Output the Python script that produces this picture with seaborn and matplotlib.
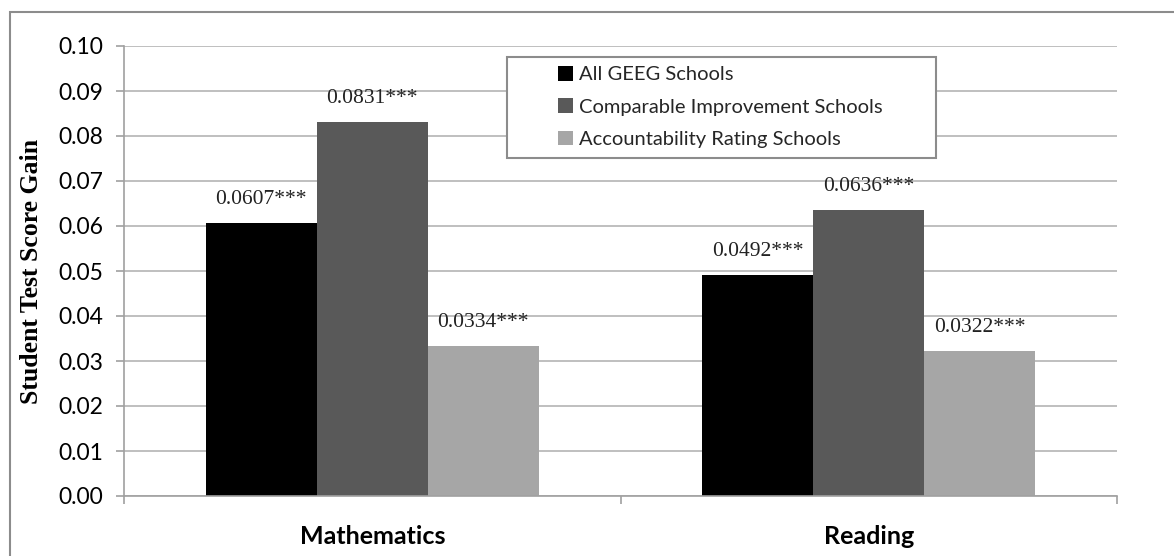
import matplotlib
matplotlib.use("Agg")
import matplotlib.pyplot as plt
from matplotlib.patches import Rectangle
import seaborn as sns
import pandas as pd

subjects = ["Mathematics", "Reading"]
groups = ["All GEEG Schools", "Comparable Improvement Schools", "Accountability Rating Schools"]
all_geeg = [0.0607, 0.0492]
comparable = [0.0831, 0.0636]
accountability = [0.0334, 0.0322]
stars = "***"
yticks = [0.00, 0.01, 0.02, 0.03, 0.04, 0.05, 0.06, 0.07, 0.08, 0.09, 0.10]
colors = ["#000000", "#595959", "#a6a6a6"]

rows = []
for g, vals in zip(groups, [all_geeg, comparable, accountability]):
    for s, v in zip(subjects, vals):
        rows.append({"Subject": s, "Group": g, "Gain": v})
df = pd.DataFrame(rows)

sns.set_theme(style="white")
plt.rcParams["font.family"] = ["Lato", "DejaVu Sans"]

W, H = 1174, 556
fig = plt.figure(figsize=(W / 100, H / 100), dpi=100)
ax = fig.add_axes([124 / W, 1 - 496 / H, (1117 - 124) / W, (496 - 46) / H])

sns.barplot(data=df, x="Subject", y="Gain", hue="Group", hue_order=groups,
            order=subjects, palette=colors, width=0.67, saturation=1,
            edgecolor="none", linewidth=0, ax=ax, legend=False)

for cont, vals in zip(ax.containers, [all_geeg, comparable, accountability]):
    ax.bar_label(cont, labels=[f"{v:.4f}{stars}" for v in vals], padding=10,
                 fontsize=15.5, family="Liberation Serif", color="#222222")

ax.set_ylim(0, 0.10)
ax.set_xlim(-0.5, 1.5)
ax.set_yticks(yticks)
ax.set_yticklabels([f"{t:.2f}" for t in yticks])
ax.yaxis.grid(True, color="#b4b4b4", linewidth=1.2)
ax.set_axisbelow(True)
for side in ["top", "right"]:
    ax.spines[side].set_visible(False)
for side in ["left", "bottom"]:
    ax.spines[side].set_color("#a0a0a0")
    ax.spines[side].set_linewidth(1.2)

ax.tick_params(axis="y", which="major", left=True, length=6, width=1.2,
               color="#a0a0a0", labelsize=16.5, pad=9, labelcolor="black")
ax.tick_params(axis="x", which="major", bottom=False, length=0, pad=21,
               labelsize=18, labelcolor="black")
ax.set_xticks([-0.5, 0.5, 1.5], minor=True)
ax.tick_params(axis="x", which="minor", bottom=True, length=6, width=1.2,
               color="#a0a0a0")
for lab in ax.get_xticklabels():
    lab.set_fontweight("bold")

ax.set_xlabel("")
ax.set_ylabel("Student Test Score Gain", fontsize=18.5, fontweight="bold",
              family="Liberation Serif", color="black")
ax.yaxis.set_label_coords((43 - 124) / (1117 - 124), 0.5)

# legend frame + legend
ax.add_patch(Rectangle(((507 - 124) / (1117 - 124), (496 - 158) / 450),
                       (936 - 507) / (1117 - 124), (158 - 57) / 450,
                       transform=ax.transAxes, facecolor="white",
                       edgecolor="#8c8c8c", linewidth=1.5, zorder=5))
handles = [Rectangle((0, 0), 1, 1, facecolor=c, edgecolor="none") for c in colors]
leg = fig.legend(handles, groups, loc="upper left",
                 bbox_to_anchor=(558 / W, 1 - 66 / H), frameon=False,
                 fontsize=14.5, handlelength=0.75, handleheight=0.75,
                 handletextpad=0.3, labelspacing=0.74, borderpad=0,
                 borderaxespad=0)
leg.set_zorder(10)

# outer chart border (top and left visible)
fig.patches.append(Rectangle((10 / W, -0.2), 1.5, 1 - 12 / H + 0.2,
                             transform=fig.transFigure, facecolor="none",
                             edgecolor="#8c8c8c", linewidth=1.5))

fig.savefig("out.png", dpi=100)
